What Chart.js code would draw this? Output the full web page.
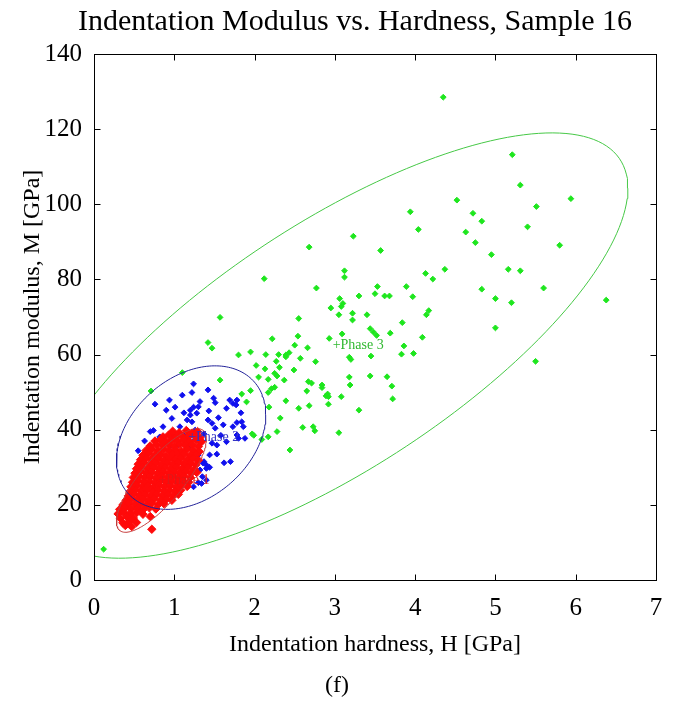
<!DOCTYPE html>
<html>
<head>
<meta charset="utf-8">
<title>Indentation Modulus vs. Hardness, Sample 16</title>
<script src="https://cdn.jsdelivr.net/npm/chart.js@4.4.1/dist/chart.umd.min.js"></script>
<style>
  html, body { margin: 0; padding: 0; background: #fff; }
  canvas { display: block; }
</style>
</head>
<body>
<canvas id="c" width="674" height="702"></canvas>
<script>
// Measured indents, [hardness H (GPa), modulus M (GPa)], grouped by phase.
const phase3Points = [
  [4.35,128.5],[5.21,113.2],[5.31,105.1],[4.52,101.1],[5.94,101.5],[5.51,99.4],[3.94,98.0],[4.72,97.6],
  [4.83,95.5],[4.04,93.3],[5.40,94.0],[4.63,92.6],[4.75,89.8],[5.80,89.1],[4.95,86.6],[4.37,82.7],
  [4.13,81.6],[4.22,80.1],[5.16,82.7],[5.31,82.3],[3.89,78.1],[4.83,77.4],[5.60,77.7],[3.97,75.4],
  [5.00,74.9],[5.20,73.8],[6.38,74.5],[4.17,71.7],[4.14,70.6],[3.84,68.5],[5.00,67.1],[4.09,64.6],
  [5.50,58.2],[3.23,91.5],[2.68,88.6],[3.57,87.7],[2.12,80.2],[3.12,82.3],[3.12,80.6],[2.77,77.7],
  [3.53,78.1],[3.30,75.6],[3.50,76.2],[3.62,75.6],[3.68,75.6],[3.06,74.9],[3.10,73.6],[2.95,72.4],
  [3.08,72.8],[3.05,70.6],[3.22,71.0],[3.22,69.2],[3.40,70.6],[2.55,69.6],[2.22,64.2],[2.54,64.9],
  [2.93,64.3],[3.09,65.5],[3.44,66.9],[3.48,66.0],[3.52,65.1],[3.69,65.7],[3.86,62.3],[2.50,62.5],
  [2.66,61.8],[3.98,60.3],[3.83,60.1],[3.45,59.6],[3.18,59.3],[3.20,58.7],[2.39,59.9],[2.43,60.5],
  [2.57,59.0],[2.76,58.1],[2.49,55.9],[2.37,53.2],[2.67,52.8],[2.71,52.4],[2.84,51.9],[2.84,51.2],
  [3.18,54.0],[3.19,51.9],[3.44,54.3],[3.65,54.1],[2.92,48.8],[3.71,51.6],[2.65,50.3],[2.91,49.5],
  [2.89,49.0],[3.08,48.8],[2.92,46.8],[2.68,46.4],[2.55,45.7],[3.30,45.2],[3.72,48.2],[2.60,40.6],
  [2.73,40.8],[2.75,39.7],[3.05,39.2],[2.44,34.6],[1.57,69.9],[1.42,63.2],[1.47,61.7],[1.80,59.9],
  [1.95,60.7],[2.14,60.0],[2.30,60.0],[2.39,59.4],[2.27,58.2],[2.02,57.1],[2.13,56.2],[2.31,56.6],
  [2.05,54.0],[2.17,53.4],[2.25,55.0],[2.28,54.3],[1.57,53.2],[2.21,50.9],[2.25,51.3],[2.17,49.9],
  [1.95,50.4],[1.84,49.5],[1.90,47.4],[2.39,47.7],[2.18,46.0],[2.32,43.1],[1.97,38.9],[1.99,38.5],
  [2.17,38.1],[2.28,39.5],[2.09,37.4],[1.10,55.2],[0.71,50.3],[0.12,8.2]
];

const phase2Points = [
  [1.24,52.2],[1.42,50.6],[0.76,46.8],[0.90,45.2],[1.01,46.0],[1.20,45.2],[1.32,47.5],[1.24,46.0],
  [1.28,44.4],[1.49,48.4],[1.51,47.2],[1.65,45.7],[1.78,47.9],[1.83,44.5],[1.16,42.6],[1.22,42.1],
  [1.42,42.6],[1.47,41.7],[0.86,40.8],[1.07,40.8],[1.26,39.9],[1.51,40.4],[1.61,41.3],[1.73,40.8],
  [1.86,40.8],[0.70,39.5],[0.82,38.1],[0.99,38.6],[1.15,37.7],[1.32,36.8],[1.47,36.4],[1.53,35.9],
  [1.65,36.8],[1.88,37.7],[0.55,34.4],[0.72,34.8],[1.53,33.5],[1.30,33.3],[1.37,31.5],[1.40,30.6],
  [1.62,31.2],[1.70,31.5],[1.32,29.3],[1.44,30.0],[1.35,27.5],[1.30,25.9],[1.24,24.8],[0.94,47.9],
  [1.10,49.2],[1.22,49.9],[1.30,46.1],[0.97,43.0],[1.84,42.1],[1.69,47.9],[1.73,47.0],[1.77,46.6],
  [1.20,43.9],[1.78,41.9],[1.11,38.6],[1.37,38.9],[1.78,38.6],[1.80,37.7],[0.74,39.8],[1.44,33.3],
  [1.28,31.9],[1.36,31.1],[1.40,29.7],[1.40,26.6],[1.34,25.7],[1.05,36.0],[1.18,35.2],[0.95,35.6],
  [1.58,38.5],[1.12,44.5],[1.55,43.2],[0.63,37.0],[1.43,45.0]
];

const phase1Points = [
  [0.98,39.6],[1.06,39.2],[1.15,39.8],[1.22,39.1],[1.29,39.5],
  [0.86,38.1],[0.93,38.6],[1.01,38.0],[1.09,38.4],[1.17,38.1],[1.25,38.5],[1.32,37.9],
  [0.76,37.0],[0.83,37.4],[0.90,36.8],[0.97,37.2],[1.04,37.0],[1.12,37.3],[1.19,36.9],[1.27,37.2],[1.34,36.8],
  [0.70,35.7],[0.78,36.1],[0.85,35.8],[0.93,36.0],[1.00,35.6],[1.07,36.1],[1.14,35.8],[1.22,35.9],[1.30,35.5],
  [0.65,34.5],[0.72,34.9],[0.80,34.4],[0.87,34.8],[0.94,34.5],[1.02,34.7],[1.09,34.3],[1.16,34.8],[1.24,34.5],[1.31,34.2],
  [0.61,33.2],[0.68,33.6],[0.76,33.3],[0.83,33.5],[0.90,33.1],[0.98,33.5],[1.05,33.3],[1.12,33.6],[1.20,33.2],[1.27,33.4],
  [0.58,32.0],[0.65,32.4],[0.72,32.1],[0.80,32.3],[0.87,31.9],[0.94,32.3],[1.01,32.0],[1.08,32.4],[1.16,32.1],[1.23,32.3],[1.30,31.9],
  [0.55,30.8],[0.62,31.2],[0.70,30.9],[0.77,31.1],[0.84,30.7],[0.91,31.1],[0.98,30.9],[1.05,31.2],[1.12,30.8],[1.20,31.0],[1.27,30.7],
  [0.53,29.6],[0.60,30.0],[0.67,29.7],[0.74,29.9],[0.81,29.5],[0.88,29.9],[0.95,29.7],[1.03,30.0],[1.10,29.6],[1.17,29.9],[1.25,29.5],
  [0.51,28.4],[0.58,28.8],[0.65,28.5],[0.72,28.7],[0.79,28.3],[0.86,28.8],[0.93,28.5],[1.00,28.7],[1.07,28.4],[1.14,28.8],[1.21,28.4],[1.28,28.6],
  [0.49,27.3],[0.56,27.6],[0.63,27.2],[0.70,27.5],[0.77,27.1],[0.84,27.6],[0.91,27.3],[0.98,27.5],[1.05,27.2],[1.12,27.6],[1.20,27.3],
  [0.48,26.0],[0.55,26.4],[0.62,26.1],[0.69,26.3],[0.76,25.9],[0.83,26.4],[0.90,26.1],[0.97,26.3],[1.04,26.0],[1.11,26.4],[1.18,26.0],
  [0.46,24.8],[0.53,25.2],[0.60,24.9],[0.67,25.1],[0.74,24.7],[0.81,25.2],[0.88,24.9],[0.95,25.1],[1.02,24.8],[1.09,25.2],[1.16,24.9],
  [0.45,23.6],[0.52,24.0],[0.59,23.7],[0.66,23.9],[0.73,23.5],[0.80,24.0],[0.87,23.7],[0.94,23.9],[1.01,23.6],[1.08,23.9],
  [0.43,22.4],[0.50,22.8],[0.57,22.5],[0.64,22.7],[0.71,22.3],[0.78,22.8],[0.85,22.5],[0.92,22.7],[0.99,22.4],[1.05,22.8],
  [0.40,21.2],[0.47,21.6],[0.54,21.3],[0.61,21.5],[0.68,21.1],[0.75,21.6],[0.83,21.3],[0.90,21.5],[0.97,21.2],
  [0.36,20.0],[0.43,20.4],[0.51,20.1],[0.58,20.3],[0.65,19.9],[0.72,20.4],[0.80,20.1],[0.87,20.3],
  [0.32,18.8],[0.39,19.2],[0.46,18.9],[0.54,19.1],[0.61,18.7],[0.69,19.2],[0.77,18.9],
  [0.30,17.6],[0.37,18.0],[0.45,17.7],[0.53,17.9],[0.61,17.5],
  [0.33,16.4],[0.41,16.8],[0.49,16.5],[0.70,16.9],
  [0.36,15.2],[0.44,15.6],[0.53,15.3],
  [0.39,14.5],[0.47,14.2],[0.72,13.5]
];

// Fitted phase ellipses: center [H, M], spread along H and M, and H-M correlation.
const phaseNames = ['Phase 1', 'Phase 2', 'Phase 3'];
const phaseCenters = [[0.84, 26.5], [1.21, 37.9], [3.01, 62.4]];
const phaseSpreadH = [0.56, 0.93, 3.64];
const phaseSpreadM = [13.8, 19.1, 56.6];
const phaseCorrelation = [0.80, 0.32, 0.74];

// Axis ticks
const xTicks = [0, 1, 2, 3, 4, 5, 6, 7];
const yTicks = [0, 20, 40, 60, 80, 100, 120, 140];

const pointColors = ['#ff0a0a', '#1010ee', '#1ee61e'];
const ellipseColors = ['#c43a3a', '#222299', '#46c846'];
const labelColors = ['#e01818', '#3434c4', '#30b830'];
const pointRadii = [4.2, 2.9, 2.9];

const SERIF = '"Liberation Serif", "DejaVu Serif", serif';

function toXY(list) {
  return list.map(p => ({ x: p[0], y: p[1] }));
}

// Outline of a phase ellipse traced from its center, spreads and correlation.
function ellipseOutline(i) {
  const [cx, cy] = phaseCenters[i];
  const sx = phaseSpreadH[i], sy = phaseSpreadM[i], r = phaseCorrelation[i];
  const q = Math.sqrt(1 - r * r);
  const out = [];
  for (let k = 0; k <= 180; k++) {
    const t = (k / 180) * Math.PI * 2;
    out.push({ x: cx + sx * Math.cos(t), y: cy + sy * (r * Math.cos(t) + q * Math.sin(t)) });
  }
  return out;
}

function pointSet(data, i, order) {
  return {
    data: toXY(data),
    pointStyle: 'rectRot',
    pointRadius: pointRadii[i],
    pointBorderWidth: 1,
    backgroundColor: pointColors[i],
    borderColor: pointColors[i],
    showLine: false,
    order: order
  };
}

function ellipseSet(i) {
  return {
    data: ellipseOutline(i),
    showLine: true,
    pointRadius: 0,
    borderWidth: 1,
    borderColor: ellipseColors[i],
    backgroundColor: ellipseColors[i],
    fill: false,
    tension: 0,
    order: 0
  };
}

// Box, inward ticks, phase labels, title and caption.
const framePlugin = {
  id: 'frame',
  afterDatasetsDraw(chart) {
    const { ctx, chartArea: a, scales: { x, y } } = chart;
    ctx.save();
    // phase labels at the ellipse centers
    ctx.font = '14px ' + SERIF;
    ctx.textAlign = 'left';
    ctx.textBaseline = 'middle';
    phaseNames.forEach((name, i) => {
      ctx.fillStyle = labelColors[i];
      ctx.fillText('+' + name, x.getPixelForValue(phaseCenters[i][0]) - 3, y.getPixelForValue(phaseCenters[i][1]));
    });
    // axes box
    ctx.strokeStyle = '#000';
    ctx.lineWidth = 1;
    const L = Math.round(a.left) + 0.5, R = Math.round(a.right) + 0.5;
    const T = Math.round(a.top) + 0.5, B = Math.round(a.bottom) + 0.5;
    ctx.strokeRect(L, T, R - L, B - T);
    ctx.beginPath();
    const tl = 6;
    xTicks.forEach(v => {
      const px = Math.round(x.getPixelForValue(v)) + 0.5;
      ctx.moveTo(px, B); ctx.lineTo(px, B - tl);
      ctx.moveTo(px, T); ctx.lineTo(px, T + tl);
    });
    yTicks.forEach(v => {
      const py = Math.round(y.getPixelForValue(v)) + 0.5;
      ctx.moveTo(L, py); ctx.lineTo(L + tl, py);
      ctx.moveTo(R, py); ctx.lineTo(R - tl, py);
    });
    ctx.stroke();
    // title and caption
    ctx.fillStyle = '#000';
    ctx.textAlign = 'center';
    ctx.textBaseline = 'middle';
    ctx.font = '30px ' + SERIF;
    ctx.fillText('Indentation Modulus vs. Hardness, Sample 16', 355, 22);
    ctx.font = '24px ' + SERIF;
    ctx.fillText('(f)', 337, 686);
    ctx.restore();
  }
};

new Chart(document.getElementById('c'), {
  type: 'scatter',
  data: {
    datasets: [
      ellipseSet(0), ellipseSet(1), ellipseSet(2),
      pointSet(phase1Points, 0, 1),
      pointSet(phase2Points, 1, 2),
      pointSet(phase3Points, 2, 3)
    ]
  },
  options: {
    responsive: false,
    animation: false,
    devicePixelRatio: 1,
    layout: { padding: { left: 0, right: 18, top: 54, bottom: 0 } },
    plugins: { legend: { display: false }, tooltip: { enabled: false }, title: { display: false } },
    scales: {
      x: {
        type: 'linear', min: 0, max: 7,
        afterBuildTicks(s) { s.ticks = xTicks.map(v => ({ value: v })); },
        afterFit(s) { s.height = 122; },
        grid: { display: false },
        border: { display: false },
        ticks: { color: '#000', font: { family: SERIF, size: 25 }, padding: 5, maxRotation: 0 },
        title: {
          display: true, text: 'Indentation hardness, H [GPa]', color: '#000',
          font: { family: SERIF, size: 24 }, padding: { top: 0, bottom: 43 }
        }
      },
      y: {
        type: 'linear', min: 0, max: 140,
        afterBuildTicks(s) { s.ticks = yTicks.map(v => ({ value: v })); },
        afterFit(s) { s.width = 94; },
        grid: { display: false },
        border: { display: false },
        ticks: { color: '#000', font: { family: SERIF, size: 25 }, padding: 4 },
        title: {
          display: true, text: 'Indentation modulus, M [GPa]', color: '#000',
          font: { family: SERIF, size: 24 }, padding: { top: 18, bottom: 0 }
        }
      }
    }
  },
  plugins: [framePlugin]
});
</script>
</body>
</html>
